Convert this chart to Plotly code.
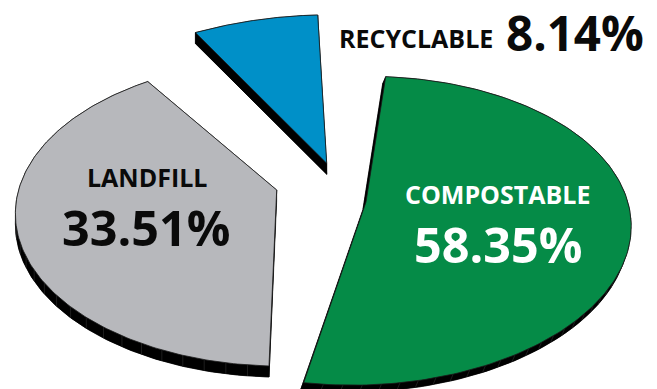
import numpy as np
import plotly.graph_objects as go

# Waste stream shares, percent
categories = ["COMPOSTABLE", "LANDFILL", "RECYCLABLE"]
shares = [58.35, 33.51, 8.14]
value_labels = ["58.35%", "33.51%", "8.14%"]

FACE = {"COMPOSTABLE": "#058b47", "LANDFILL": "#b7b8bc", "RECYCLABLE": "#0090c8"}
START_DEG = -105.0

# Perspective camera of each exploded slice on the 657x389 page: the disc centre
# and three rim directions (degrees) with the page positions they project to.
# The tip is where the slice's straight edges meet after it is pulled out.
VIEW = {
    "COMPOSTABLE": dict(tip=(366, 202), centre=(415, 235), rim_deg=(-105, 0, 105),
                        rim=[(385.7, 76.7), (628, 250), (304, 382.7)]),
    "LANDFILL": dict(tip=(276.7, 190), centre=(345.6, 204), rim_deg=(105, 165.3, 225.6),
                     rim=[(269.3, 366), (23, 250), (147.3, 81.7)]),
    "RECYCLABLE": dict(tip=(326.7, 163.3), centre=(326.7, 163.3), rim_deg=(225.6, 240.3, 255),
                       rim=[(195, 32.7), (256.7, 20), (317.7, 15)]),
}
# Extrusion of each slice, page pixels
DEPTH = {"COMPOSTABLE": (-3, 7), "LANDFILL": (0, 11), "RECYCLABLE": (0, 11)}


def homography(src, dst):
    rows, rhs = [], []
    for (u, v), (x, y) in zip(src, dst):
        rows.append([u, v, 1, 0, 0, 0, -u * x, -v * x])
        rows.append([0, 0, 0, u, v, 1, -u * y, -v * y])
        rhs += [x, y]
    h = np.linalg.solve(np.array(rows, float), np.array(rhs, float))
    return np.append(h, 1).reshape(3, 3)


def project(h, u, v):
    w = h[2, 0] * u + h[2, 1] * v + 1
    return (h[0, 0] * u + h[0, 1] * v + h[0, 2]) / w, (h[1, 0] * u + h[1, 1] * v + h[1, 2]) / w


def black_fill(x, y):
    return go.Scatter(x=x, y=y, mode="lines", fill="toself", fillcolor="#000000",
                      line=dict(color="#000000", width=0.5), hoverinfo="skip", showlegend=False)


fig = go.Figure()
faces = []
angle = START_DEG
for name, share in zip(categories, shares):
    sweep = 360.0 * share / sum(shares)
    a0, a1 = np.radians(angle), np.radians(angle + sweep)
    cam = VIEW[name]
    src = [(0, 0)] + [(np.cos(np.radians(d)), np.sin(np.radians(d))) for d in cam["rim_deg"]]
    h = homography(src, [cam["centre"]] + cam["rim"])
    t = np.linspace(a0, a1, 160)
    ax, ay = project(h, np.cos(t), np.sin(t))
    tip_x, tip_y = cam["tip"]
    px = np.r_[tip_x, ax, tip_x]
    py = np.r_[tip_y, ay, tip_y]
    dx, dy = DEPTH[name]

    # Side wall: the offset copy of the face, then the band joining it to the face
    fig.add_trace(black_fill(px + dx, py + dy))
    band_x = np.r_[ax, (ax + dx)[::-1], ax[0]]
    band_y = np.r_[ay, (ay + dy)[::-1], ay[0]]
    fig.add_trace(black_fill(band_x, band_y))
    for ex, ey in ((ax[0], ay[0]), (ax[-1], ay[-1])):
        fig.add_trace(black_fill([tip_x, ex, ex + dx, tip_x + dx, tip_x],
                                 [tip_y, ey, ey + dy, tip_y + dy, tip_y]))
    # Faint facet seams on the wall of the larger slices
    if sweep > 40:
        seam = np.linspace(a0, a1, int(sweep / 4))[1:-1]
        sx, sy = project(h, np.cos(seam), np.sin(seam))
        seam_x, seam_y = [], []
        for x0, y0 in zip(sx, sy):
            seam_x += [x0, x0 + dx, None]
            seam_y += [y0, y0 + dy, None]
        fig.add_trace(go.Scatter(x=seam_x, y=seam_y, mode="lines", line=dict(color="#2a2a2a", width=0.7),
                                 hoverinfo="skip", showlegend=False))
    faces.append((name, px, py))
    angle += sweep

for name, px, py in faces:
    fig.add_trace(go.Scatter(x=px, y=py, mode="lines", fill="toself", fillcolor=FACE[name],
                             line=dict(color="#1a1a1a", width=0.8), name=name, showlegend=False))

FONT = "Open Sans"
labels = [
    (categories[0], 497, 194, 25, 700, "#ffffff"), (value_labels[0], 498, 244, 48.5, 700, "#ffffff"),
    (categories[1], 146.5, 177, 25, 700, "#0a0a0a"), (value_labels[1], 146, 227, 48.5, 700, "#0a0a0a"),
    (categories[2], 416, 38, 25, 700, "#0a0a0a"), (value_labels[2], 575, 32.5, 47.5, 700, "#0a0a0a"),
]
for text, x, y, size, weight, color in labels:
    fig.add_annotation(x=x, y=y, text=text, showarrow=False, xanchor="center", yanchor="middle",
                       font=dict(family=FONT, size=size, color=color, weight=weight))

fig.update_layout(
    width=657, height=389, margin=dict(l=0, r=0, t=0, b=0),
    paper_bgcolor="white", plot_bgcolor="white", showlegend=False,
    xaxis=dict(range=[0, 657], visible=False, fixedrange=True),
    yaxis=dict(range=[389, 0], visible=False, fixedrange=True),
)
fig.write_html("out.html", config={"displayModeBar": False})
